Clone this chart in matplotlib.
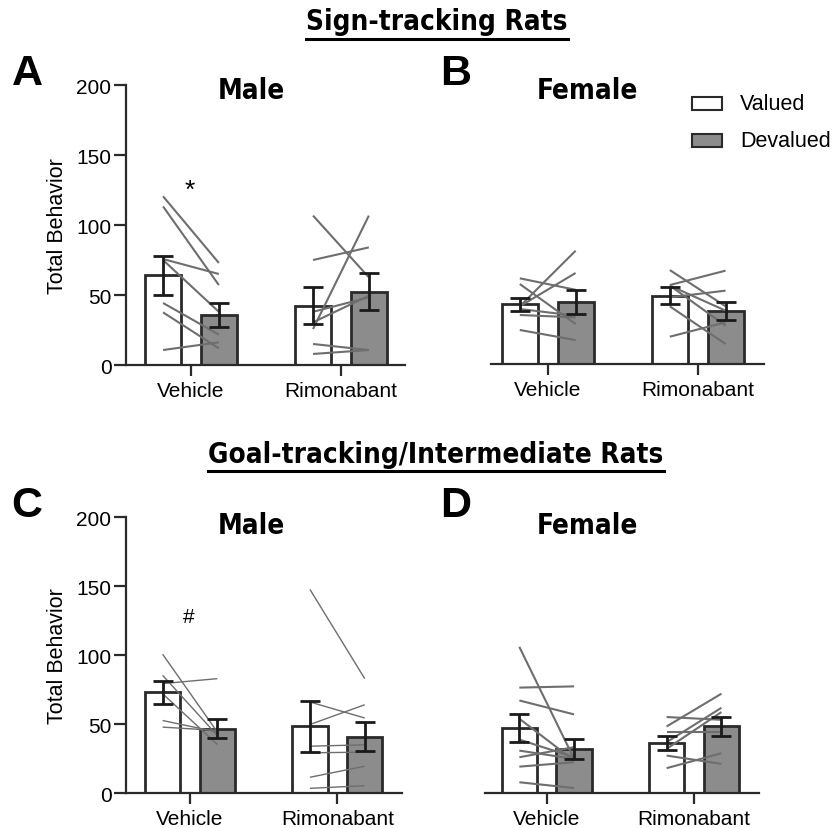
import matplotlib
matplotlib.use('Agg')
import matplotlib.pyplot as plt
from matplotlib import font_manager
from matplotlib.patches import Rectangle
from matplotlib.lines import Line2D

# ---------------- data ----------------
conditions = ['Vehicle', 'Rimonabant']
legend_labels = ['Valued', 'Devalued']

# Panel A: sign-tracking, male
a_valued_mean = [64.0, 42.5]
a_valued_sem = [14.0, 13.5]
a_devalued_mean = [36.0, 52.5]
a_devalued_sem = [8.5, 13.0]
a_veh_valued = [120.5, 113.3, 75.7, 75.0, 44.3, 37.6, 10.7]
a_veh_devalued = [72.9, 57.1, 65.0, 38.0, 21.7, 11.9, 16.2]
a_rim_valued = [106.7, 75.0, 25.7, 38.0, 30.5, 15.0, 7.9]
a_rim_devalued = [62.6, 84.0, 106.7, 48.3, 49.5, 10.7, 10.7]

# Panel B: sign-tracking, female
b_valued_mean = [42.6, 48.8]
b_valued_sem = [4.8, 6.0]
b_devalued_mean = [44.0, 37.9]
b_devalued_sem = [8.6, 6.5]
b_veh_valued = [41.2, 41.2, 61.2, 57.1, 39.3, 35.0, 24.3]
b_veh_devalued = [80.9, 65.0, 53.0, 28.6, 34.5, 33.3, 17.1]
b_rim_valued = [67.1, 56.4, 56.0, 47.6, 56.0, 41.2, 19.5]
b_rim_devalued = [41.2, 66.7, 38.1, 52.4, 27.4, 14.3, 29.8]

# Panel C: goal-tracking/intermediate, male
c_valued_mean = [73.1, 48.4]
c_valued_sem = [8.3, 18.2]
c_devalued_mean = [46.9, 41.1]
c_devalued_sem = [7.2, 10.2]
c_veh_valued = [100.7, 85.4, 79.4, 72.1, 52.7, 47.9]
c_veh_devalued = [44.3, 41.8, 83.0, 35.3, 44.3, 45.5]
c_rim_valued = [147.6, 66.1, 49.8, 34.1, 29.3, 11.6, 3.6]
c_rim_devalued = [83.0, 54.5, 64.1, 35.1, 29.8, 19.6, 5.5]

# Panel D: goal-tracking/intermediate, female
d_valued_mean = [47.2, 36.5]
d_valued_sem = [10.2, 5.0]
d_devalued_mean = [32.2, 48.4]
d_devalued_sem = [7.3, 7.0]
d_veh_valued = [106.0, 76.5, 67.2, 54.0, 38.9, 30.9, 26.1, 19.3, 8.0]
d_veh_devalued = [24.9, 77.4, 57.1, 23.7, 26.1, 24.9, 33.4, 22.5, 3.8]
d_rim_valued = [48.4, 55.2, 44.3, 37.0, 32.2, 27.3, 18.2]
d_rim_devalued = [72.1, 53.2, 44.3, 61.9, 58.8, 21.3, 29.0]

yticks = [0, 50, 100, 150, 200]

# ---------------- fonts ----------------
ttf = font_manager.fontManager.ttflist
names = {f.name for f in ttf}
REG = 'Liberation Sans' if 'Liberation Sans' in names else 'DejaVu Sans'
NARROW, NSTRETCH = REG, 'normal'
if 'Liberation Sans Narrow' in names:
    NARROW = 'Liberation Sans Narrow'
else:
    for f in ttf:
        if f.name == 'DejaVu Sans' and str(f.stretch) in ('condensed', 'semi-condensed', '500', '400') \
                and 'ondensed' in f.fname and 'Bold' in f.fname:
            NARROW, NSTRETCH = 'DejaVu Sans', 'condensed'
            break

W, H = 840, 829
fig = plt.figure(figsize=(W / 100, H / 100), dpi=100)

EDGE = '#2a2a2a'
GREY = '#8c8c8c'
LINEC = '#6e6e6e'
OFF = 0.186
BW = 0.24


def axbox(l, r, t, b):
    return [l / W, (H - b) / H, (r - l) / W, (b - t) / H]


def panel(rect, xlim, vm, vs, dm, ds, veh_v, veh_d, rim_v, rim_d, show_y, lw_ind):
    ax = fig.add_axes(rect)
    x = [0, 1]
    ax.bar([xi - OFF for xi in x], vm, width=BW, color='white', edgecolor=EDGE,
           linewidth=2, zorder=2)
    ax.bar([xi + OFF for xi in x], dm, width=BW, color=GREY, edgecolor=EDGE,
           linewidth=2, zorder=2)
    for xi, vv, dd in ((0, veh_v, veh_d), (1, rim_v, rim_d)):
        for v, d in zip(vv, dd):
            ax.plot([xi - OFF, xi + OFF], [v, d], color=LINEC, lw=lw_ind,
                    zorder=3, solid_capstyle='butt')
    ax.errorbar([xi - OFF for xi in x], vm, yerr=vs, fmt='none', ecolor='#1a1a1a',
                elinewidth=2, capsize=7, capthick=2, zorder=4)
    ax.errorbar([xi + OFF for xi in x], dm, yerr=ds, fmt='none', ecolor='#1a1a1a',
                elinewidth=2, capsize=7, capthick=2, zorder=4)
    ax.set_xlim(*xlim)
    ax.set_ylim(0, 200)
    ax.set_xticks(x)
    ax.set_xticklabels(conditions, fontsize=15, family=REG)
    for s in ('top', 'right'):
        ax.spines[s].set_visible(False)
    for s in ('left', 'bottom'):
        ax.spines[s].set_linewidth(1.6)
        ax.spines[s].set_color(EDGE)
    ax.tick_params(axis='x', length=8, width=1.6, color=EDGE, pad=3.5)
    if show_y:
        ax.set_yticks(yticks)
        ax.set_yticklabels([str(t) for t in yticks], fontsize=15, family=REG)
        ax.tick_params(axis='y', length=8.5, width=1.6, color=EDGE, pad=2)
        ax.set_ylabel('Total Behavior', fontsize=15.5, family=REG, labelpad=6)
    else:
        ax.spines['left'].set_visible(False)
        ax.set_yticks([])
    ax.patch.set_alpha(0)
    return ax


axA = panel(axbox(126, 405, 86, 366), (-0.433, 1.427), a_valued_mean, a_valued_sem,
            a_devalued_mean, a_devalued_sem, a_veh_valued, a_veh_devalued,
            a_rim_valued, a_rim_devalued, True, 1.5)
axB = panel(axbox(491, 764, 85, 365), (-0.378, 1.442), b_valued_mean, b_valued_sem,
            b_devalued_mean, b_devalued_sem, b_veh_valued, b_veh_devalued,
            b_rim_valued, b_rim_devalued, False, 1.5)
axC = panel(axbox(126, 401.7, 518, 794.3), (-0.4345, 1.437), c_valued_mean, c_valued_sem,
            c_devalued_mean, c_devalued_sem, c_veh_valued, c_veh_devalued,
            c_rim_valued, c_rim_devalued, True, 1.0)
axD = panel(axbox(485, 759, 518, 794.3), (-0.419, 1.441), d_valued_mean, d_valued_sem,
            d_devalued_mean, d_devalued_sem, d_veh_valued, d_veh_devalued,
            d_rim_valued, d_rim_devalued, False, 1.5)

# significance marks
axA.text(-0.01, 125, '*', ha='center', va='center', fontsize=19, family=REG)
axC.text(-0.01, 128, '#', ha='center', va='center', fontsize=15, family=REG)


def fx(px):
    return px / W


def fy(py):
    return 1 - py / H


# condensed bold texts (headings and sex titles), sized to the reference width
cond_texts = []
for txt, cx, cy in (('Male', 251, 91), ('Female', 587, 91), ('Male', 251, 526), ('Female', 587, 526),
                    ('Sign-tracking Rats', 437, 22), ('Goal-tracking/Intermediate Rats', 436, 455)):
    cond_texts.append(fig.text(fx(cx), fy(cy), txt, ha='center', va='center', fontsize=26,
                               family=NARROW, weight='bold', fontstretch=NSTRETCH))

# panel letters
for txt, cx, cy in (('A', 27, 74), ('B', 456, 74), ('C', 27, 506), ('D', 456, 506)):
    fig.text(fx(cx), fy(cy), txt, ha='center', va='center', fontsize=31,
             family=REG, weight='bold')

fig.canvas.draw()
r = fig.canvas.get_renderer()
w_now = cond_texts[4].get_window_extent(r).width
scale = 261.0 / w_now
for t in cond_texts:
    t.set_fontsize(26 * scale)
fig.canvas.draw()
for t, uy in zip(cond_texts[4:], (40, 472)):
    bb = t.get_window_extent(r)
    fig.add_artist(Line2D([bb.x0 / W, bb.x1 / W], [fy(uy), fy(uy)],
                          transform=fig.transFigure, color='black', lw=2.2))

# legend
for (lab, col, by) in ((legend_labels[0], 'white', 98), (legend_labels[1], GREY, 135)):
    fig.add_artist(Rectangle((fx(692), fy(by + 13)), 30 / W, 13 / H, transform=fig.transFigure,
                             facecolor=col, edgecolor=EDGE, lw=1.5))
    fig.text(fx(740), fy(by + 6.5), lab, ha='left', va='center', fontsize=15.5, family=REG)

fig.savefig('out.png', dpi=100)
